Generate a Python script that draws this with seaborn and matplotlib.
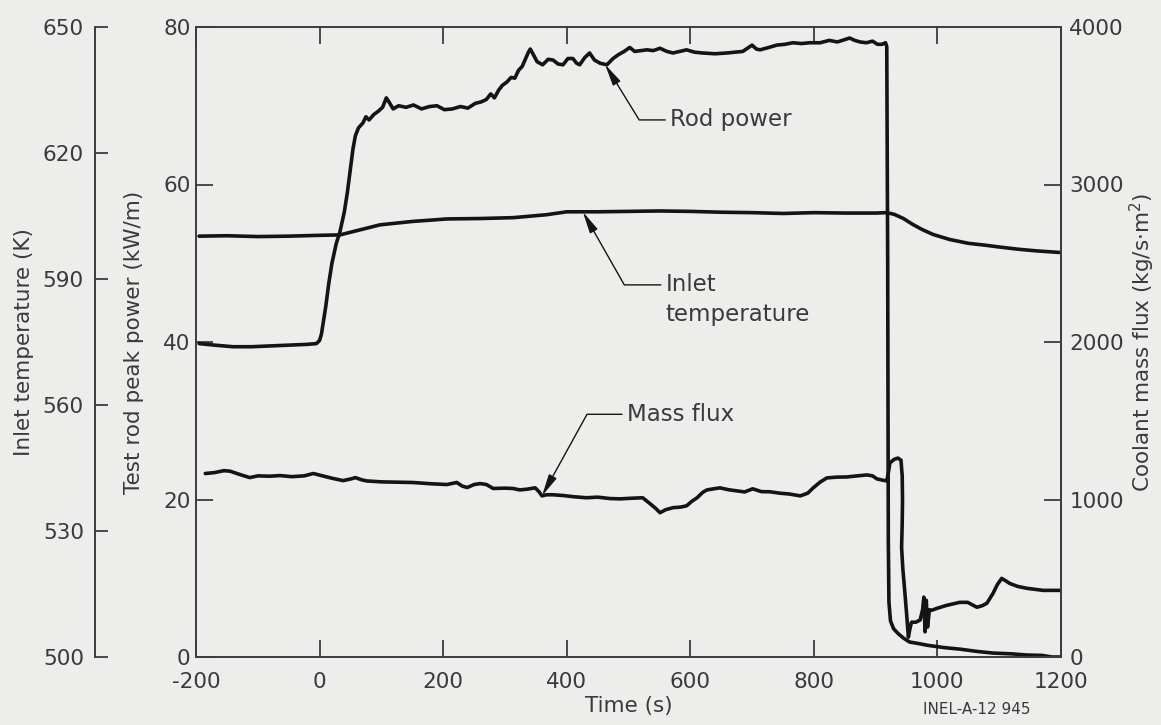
import numpy as np
import pandas as pd
import matplotlib
matplotlib.use("Agg")
import matplotlib.pyplot as plt
import seaborn as sns

# ---------------------------------------------------------------------------
# Measured traces
# ---------------------------------------------------------------------------
# Test rod peak power (kW/m)
power_time = [
    -195, -170, -140, -110, -80, -50, -20, -5, 0, 3, 6, 10, 15, 20, 27, 33, 40,
    45, 50, 54, 58, 63, 70, 75, 80, 88, 95, 102, 108, 113, 119, 128, 140, 152,
    165, 178, 190, 202, 215, 228, 240, 252, 262, 270, 277, 283, 290, 296, 303,
    310, 316, 322, 328, 333, 338, 341, 346, 352, 361, 370, 378, 386, 394, 402,
    410, 416, 421, 429, 437, 445, 454, 465, 475, 484, 493, 502, 510, 520, 530,
    540, 551, 562, 572, 583, 594, 607, 620, 640, 659, 672, 685, 700, 707, 713,
    727, 740, 753, 766, 780, 793, 810, 825, 838, 850, 858, 866, 875, 885, 895,
    903, 910, 916, 918, 919.5, 920.5, 921.5, 924, 929, 936, 945, 955, 970, 983,
    1010, 1036, 1065, 1090, 1120, 1145, 1170, 1185, 1200,
]
power_kw = [
    39.8, 39.6, 39.4, 39.4, 39.5, 39.6, 39.7, 39.8, 40.2, 41.0, 42.5, 44.5,
    47.5, 50.0, 52.5, 54.0, 56.5, 59.0, 62.0, 64.5, 66.2, 67.2, 67.8, 68.6,
    68.2, 68.9, 69.3, 69.8, 71.0, 70.4, 69.6, 70.0, 69.8, 70.1, 69.6, 69.9,
    70.0, 69.5, 69.6, 69.9, 69.7, 70.3, 70.5, 70.8, 71.5, 71.0, 72.0, 72.6,
    73.0, 73.6, 73.5, 74.5, 75.0, 75.9, 76.8, 77.2, 76.5, 75.6, 75.2, 75.9,
    75.8, 75.3, 75.2, 76.0, 76.0, 75.4, 75.2, 76.1, 76.7, 75.8, 75.4, 75.2,
    76.0, 76.5, 76.9, 77.4, 76.9, 77.0, 77.1, 77.0, 77.3, 76.9, 76.7, 76.9,
    77.1, 76.8, 76.7, 76.6, 76.7, 76.8, 76.9, 77.7, 77.2, 77.1, 77.4, 77.7,
    77.8, 78.0, 77.9, 78.0, 78.0, 78.3, 78.1, 78.4, 78.6, 78.3, 78.1, 78.0,
    78.2, 77.8, 77.8, 78.0, 77.5, 50.0, 15.0, 7.0, 4.6, 3.6, 3.0, 2.4, 1.9,
    1.7, 1.5, 1.2, 1.0, 0.7, 0.5, 0.4, 0.25, 0.2, 0.0, 0.0,
]

# Inlet temperature (K)
inlet_time = [
    -195, -150, -100, -50, 0, 33, 60, 98, 150, 206, 260, 313, 367, 400, 450,
    500, 550, 600, 650, 700, 750, 800, 850, 900, 918, 930, 945, 960, 975, 993,
    1020, 1050, 1080, 1101, 1130, 1160, 1200,
]
inlet_temp_k = [
    600.2, 600.3, 600.1, 600.2, 600.4, 600.5, 601.5, 602.9, 603.7, 604.3,
    604.4, 604.6, 605.3, 606.0, 606.0, 606.1, 606.2, 606.1, 605.9, 605.8,
    605.6, 605.8, 605.7, 605.7, 605.8, 605.4, 604.4, 603.0, 601.8, 600.6,
    599.4, 598.5, 598.0, 597.6, 597.1, 596.7, 596.3,
]

# Coolant mass flux (kg/s.m2)
flux_time = [
    -185, -170, -155, -145, -130, -113, -100, -80, -64, -45, -25, -10, 5, 20,
    38, 50, 58, 68, 76, 100, 125, 151, 180, 206, 222, 231, 239, 250, 260, 270,
    281, 300, 313, 324, 335, 349, 355, 360, 367, 378, 395, 410, 432, 450, 470,
    486, 505, 523, 535, 545, 551, 560, 572, 585, 594, 603, 611, 620, 627, 648,
    662, 675, 688, 701, 715, 729, 745, 760, 778, 790, 799, 810, 821, 837, 853,
    870, 886, 895, 902, 912, 918, 921, 923, 930, 936, 941, 943, 943.5, 943,
    942, 944, 947, 950, 953, 955, 958, 965, 972, 976, 978, 980, 982, 984, 987,
    991, 1000, 1015, 1036, 1049, 1057, 1064, 1072, 1080, 1090, 1097, 1104,
    1110, 1117, 1130, 1145, 1171, 1198,
]
flux_kg = [
    1165, 1171, 1183, 1180, 1160, 1139, 1150, 1148, 1152, 1145, 1150, 1165,
    1150, 1135, 1120, 1130, 1139, 1125, 1118, 1112, 1110, 1108, 1100, 1095,
    1108, 1085, 1076, 1095, 1101, 1095, 1070, 1072, 1070, 1061, 1065, 1074,
    1050, 1023, 1030, 1030, 1025, 1018, 1011, 1015, 1006, 1004, 1008, 1011,
    973, 940, 916, 935, 948, 952, 960, 990, 1011, 1045, 1061, 1074, 1062,
    1055, 1048, 1068, 1050, 1049, 1040, 1035, 1023, 1040, 1074, 1110, 1137,
    1142, 1143, 1150, 1156, 1150, 1131, 1122, 1118, 1180, 1232, 1255, 1263,
    1250, 1150, 1000, 850, 695, 560, 423, 280, 126, 170, 221, 221, 235, 300,
    380, 160, 360, 190, 300, 297, 310, 328, 347, 347, 330, 316, 325, 341, 404,
    460, 499, 485, 467, 448, 436, 423, 423,
]

time_ticks = [-200, 0, 200, 400, 600, 800, 1000, 1200]
power_ticks = [0, 20, 40, 60, 80]
temp_ticks = [500, 530, 560, 590, 620, 650]
flux_ticks = [0, 1000, 2000, 3000, 4000]

# ---------------------------------------------------------------------------
# Style
# ---------------------------------------------------------------------------
BG = "#ededeb"
INK = "#141414"
FRAME = "#3c3c3c"
TEXT = "#3a3a3a"

sns.set_theme(style="ticks")
plt.rcParams["font.family"] = ["DejaVu Sans"]
plt.rcParams["axes.unicode_minus"] = False

fig = plt.figure(figsize=(11.61, 7.25), dpi=100)
fig.patch.set_facecolor(BG)

W, H = 1161, 725
ax = fig.add_axes([196 / W, 68 / H, 865 / W, 630 / H])
ax.set_facecolor(BG)
ax_t = ax.twinx()
ax_m = ax.twinx()

power_df = pd.DataFrame({"time": power_time, "power": power_kw})
inlet_df = pd.DataFrame({"time": inlet_time, "temp": inlet_temp_k})
flux_df = pd.DataFrame({"time": flux_time, "flux": flux_kg})

line_kw = dict(color=INK, linewidth=2.6, sort=False, estimator=None, legend=False)
sns.lineplot(data=power_df, x="time", y="power", ax=ax, **line_kw)
sns.lineplot(data=inlet_df, x="time", y="temp", ax=ax_t, **line_kw)
sns.lineplot(data=flux_df, x="time", y="flux", ax=ax_m, **line_kw)

# --- main axes: time / rod power -----------------------------------------
ax.set_xlim(-200, 1200)
ax.set_ylim(0, 80)
ax.set_xticks(time_ticks)
ax.set_yticks(power_ticks)
ax.set_xlabel("Time (s)", fontsize=15.5, color=TEXT, labelpad=3)
ax.set_ylabel("Test rod peak power (kW/m)", fontsize=15.5, color=TEXT, labelpad=14)
ax.tick_params(axis="x", direction="in", length=12, width=1.3, top=True,
               labeltop=False, bottom=True, labelsize=15.5, colors=FRAME,
               labelcolor=TEXT, pad=11)
ax.tick_params(axis="y", direction="in", length=12, width=1.3, left=True,
               right=False, labelsize=15.5, colors=FRAME, labelcolor=TEXT, pad=4)
for side in ["left", "bottom", "top", "right"]:
    ax.spines[side].set_visible(True)
    ax.spines[side].set_color(FRAME)
    ax.spines[side].set_linewidth(1.4)

# --- outer left axis: inlet temperature ------------------------------------
ax_t.set_ylim(500, 650)
ax_t.set_yticks(temp_ticks)
ax_t.yaxis.set_ticks_position("left")
ax_t.yaxis.set_label_position("left")
ax_t.spines["left"].set_position(("outward", 72.7))
for side in ["right", "top", "bottom"]:
    ax_t.spines[side].set_visible(False)
ax_t.spines["left"].set_visible(True)
ax_t.spines["left"].set_color(FRAME)
ax_t.spines["left"].set_linewidth(1.4)
ax_t.tick_params(axis="y", direction="in", length=9, width=1.3,
                 labelsize=15.5, colors=FRAME, labelcolor=TEXT, pad=8)
ax_t.set_ylabel("Inlet temperature (K)", fontsize=15.5, color=TEXT, labelpad=6)

# --- right axis: coolant mass flux ----------------------------------------
ax_m.set_ylim(0, 4000)
ax_m.set_yticks(flux_ticks)
for side in ["left", "top", "bottom"]:
    ax_m.spines[side].set_visible(False)
ax_m.spines["right"].set_color(FRAME)
ax_m.spines["right"].set_linewidth(1.4)
ax_m.tick_params(axis="y", direction="in", length=12, width=1.3,
                 labelsize=15.5, colors=FRAME, labelcolor=TEXT, pad=6)
ax_m.set_ylabel("Coolant mass flux (kg/s$\\cdot$m$^2$)", fontsize=15.5,
                color=TEXT, labelpad=3)

# --- leader annotations ----------------------------------------------------
def leader(angle_b):
    return dict(arrowstyle="-|>,head_length=1.1,head_width=0.22",
                mutation_scale=12, color=INK, lw=1.0,
                connectionstyle=f"angle,angleA=0,angleB={angle_b},rad=0",
                relpos=(0, 0.5), shrinkA=1, shrinkB=0)

rod_tip = 462
ax.annotate("Rod power", xy=(rod_tip, np.interp(rod_tip, power_time, power_kw)),
            xytext=(567, 68.2), ha="left", va="center", fontsize=16.5,
            color=TEXT, arrowprops=leader(121.6))

inlet_tip = 426
ax_t.annotate("Inlet", xy=(inlet_tip, np.interp(inlet_tip, inlet_time, inlet_temp_k)),
              xytext=(560, 588.6), ha="left", va="center", fontsize=16.5,
              color=TEXT, arrowprops=leader(119.6))
ax_t.text(560, 581.6, "temperature", ha="left", va="center", fontsize=16.5,
          color=TEXT)

flux_arr_t = np.array(flux_time)
pre = flux_arr_t < 915
flux_tip = 360
ax_m.annotate("Mass flux",
              xy=(flux_tip, np.interp(flux_tip, flux_arr_t[pre], np.array(flux_kg)[pre])),
              xytext=(497, 1541), ha="left", va="center", fontsize=16.5,
              color=TEXT, arrowprops=leader(61.1))

fig.text(923 / W, 1 - 710 / H, "INEL-A-12 945", ha="left", va="center",
         fontsize=11, color=TEXT)

fig.savefig("out.png", dpi=100, facecolor=BG)
